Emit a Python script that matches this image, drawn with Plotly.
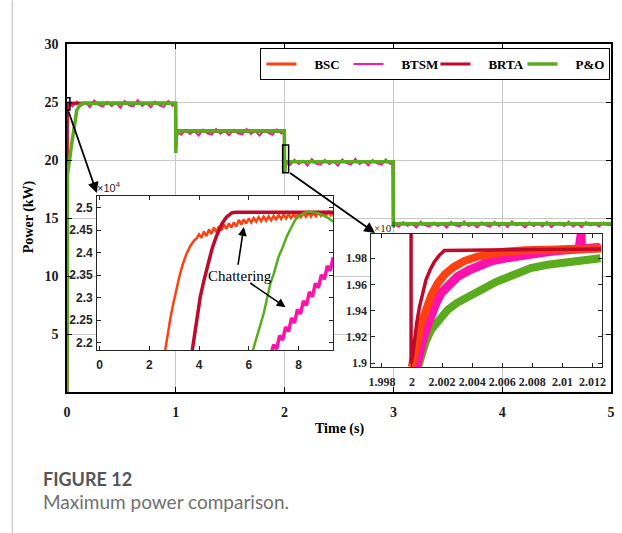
import plotly.graph_objects as go

# ---------------- colours ----------------
C_BSC = "#ff4010"
C_BTSM = "#ff12aa"
C_BRTA = "#c00a2c"
C_PO = "#5aab1e"

# ---------------- main plot data (time s, power kW) ----------------
bsc_t = [0.0, 0.003, 0.998, 1.0, 1.004, 1.02, 1.998, 2.0, 2.004, 2.02, 2.998, 3.0, 3.004, 3.02, 5.0]
bsc_p = [0.0, 24.9, 24.9, 21.2, 22.2, 22.5, 22.5, 19.0, 19.7, 19.87, 19.87, 14.25, 14.45, 14.5, 14.5]

brta_t = [0.0, 0.002, 0.998, 1.0, 1.003, 1.02, 1.998, 2.0, 2.003, 2.02, 2.998, 3.0, 3.003, 3.02, 5.0]
brta_p = [0.0, 24.9, 24.9, 21.4, 22.3, 22.5, 22.5, 19.0, 19.8, 19.87, 19.87, 14.3, 14.5, 14.5, 14.5]

po_t = [0.0, 0.004, 0.045, 0.09, 0.12, 0.15, 0.998, 1.0, 1.006, 1.03, 1.998, 2.0, 2.006, 2.03,
        2.998, 3.0, 3.006, 3.03, 5.0]
po_p = [0.0, 18.7, 21.5, 24.3, 24.75, 24.9, 24.9, 20.6, 22.1, 22.5, 22.5, 19.0, 19.6, 19.85,
        19.85, 14.2, 14.45, 14.5, 14.5]

btsm_t1 = [0.0, 0.002, 0.01, 0.05, 0.09, 0.13, 0.17, 0.21, 0.25, 0.29, 0.33, 0.37, 0.41, 0.45,
           0.49, 0.53, 0.57, 0.61, 0.65, 0.69, 0.73, 0.77, 0.81, 0.85, 0.89, 0.93, 0.97, 0.995]
btsm_p1 = [0.0, 24.9, 24.85, 24.62, 25.02, 24.68, 24.95, 24.55, 25.12, 24.75, 24.6, 25.0, 24.65, 24.92,
           24.52, 25.08, 24.72, 24.62, 25.15, 24.66, 24.9, 24.55, 25.02, 24.72, 24.58, 25.08, 24.66, 24.85]

btsm_t2 = [1.0, 1.01, 1.05, 1.09, 1.13, 1.17, 1.21, 1.25, 1.29, 1.33, 1.37, 1.41, 1.45, 1.49,
           1.53, 1.57, 1.61, 1.65, 1.69, 1.73, 1.77, 1.81, 1.85, 1.89, 1.93, 1.97, 1.995]
btsm_p2 = [21.0, 22.4, 22.18, 22.58, 22.25, 22.5, 22.12, 22.62, 22.3, 22.18, 22.66, 22.26, 22.5, 22.14,
           22.6, 22.3, 22.2, 22.66, 22.24, 22.5, 22.12, 22.56, 22.34, 22.18, 22.64, 22.28, 22.42]

btsm_t3 = [2.0, 2.01, 2.05, 2.09, 2.13, 2.17, 2.21, 2.25, 2.29, 2.33, 2.37, 2.41, 2.45, 2.49,
           2.53, 2.57, 2.61, 2.65, 2.69, 2.73, 2.77, 2.81, 2.85, 2.89, 2.93, 2.97, 2.995]
btsm_p3 = [19.0, 19.8, 19.58, 20.02, 19.66, 19.92, 19.52, 20.08, 19.7, 19.6, 20.0, 19.66, 19.88, 19.5,
           20.05, 19.74, 19.6, 20.1, 19.66, 19.9, 19.55, 20.0, 19.72, 19.6, 20.04, 19.66, 19.82]

btsm_t4 = [3.0, 3.01, 3.05, 3.09, 3.13, 3.17, 3.21, 3.25, 3.29, 3.33, 3.37, 3.41, 3.45, 3.49, 3.53,
           3.57, 3.61, 3.65, 3.69, 3.73, 3.77, 3.81, 3.85, 3.89, 3.93, 3.97, 4.01, 4.05, 4.09,
           4.13, 4.17, 4.21, 4.25, 4.29, 4.33, 4.37, 4.41, 4.45, 4.49, 4.53, 4.57, 4.61, 4.65,
           4.69, 4.73, 4.77, 4.81, 4.85, 4.89, 4.93, 4.97, 4.995, 5.0]
btsm_p4 = [14.2, 14.45, 14.24, 14.64, 14.32, 14.54, 14.18, 14.68, 14.38, 14.26, 14.6,
           14.3, 14.54, 14.18, 14.66, 14.36, 14.27, 14.7, 14.31, 14.5, 14.2,
           14.62, 14.36, 14.26, 14.66, 14.31, 14.54, 14.22, 14.7, 14.36, 14.5,
           14.19, 14.62, 14.31, 14.56, 14.27, 14.66, 14.22, 14.48, 14.6, 14.31,
           14.68, 14.27, 14.5, 14.21, 14.64, 14.36, 14.54, 14.27, 14.62, 14.4, 14.45, 14.42]

btsm_t = btsm_t1 + btsm_t2 + btsm_t3 + btsm_t4
btsm_p = btsm_p1 + btsm_p2 + btsm_p3 + btsm_p4

# ---------------- inset 1 data (start-up, power x1e4 W) ----------------
bsc1_x = [2.64, 2.75, 2.85, 2.95, 3.05, 3.2, 3.35, 3.5, 3.65, 3.8, 3.9,
          4.0, 4.1, 4.2, 4.3, 4.4, 4.5, 4.6, 4.7, 4.8, 4.9, 5.0, 5.1, 5.2, 5.3, 5.4, 5.5,
          5.6, 5.7, 5.8, 5.9, 6.0, 6.1, 6.2, 6.3, 6.4, 6.5, 6.6, 6.7, 6.8, 6.9, 7.0, 7.1,
          7.2, 7.3, 7.4, 7.5, 7.6, 7.7, 7.8, 7.9, 8.0, 8.1, 8.2, 8.3, 8.4, 8.5, 8.6, 8.7,
          8.8, 8.9, 9.0, 9.1, 9.2, 9.3, 9.4]
bsc1_y = [2.184, 2.225, 2.255, 2.283, 2.31, 2.345, 2.375, 2.398, 2.415, 2.427, 2.432,
          2.441, 2.433, 2.447, 2.437, 2.452, 2.442, 2.456, 2.446, 2.459, 2.45, 2.463, 2.453,
          2.465, 2.456, 2.467, 2.458, 2.473, 2.463, 2.474, 2.465, 2.476, 2.467, 2.477, 2.469,
          2.479, 2.47, 2.48, 2.471, 2.481, 2.472, 2.482, 2.474, 2.484, 2.475, 2.485, 2.476,
          2.486, 2.477, 2.486, 2.478, 2.487, 2.479, 2.488, 2.48, 2.489, 2.48, 2.489, 2.481,
          2.49, 2.482, 2.49, 2.482, 2.491, 2.483, 2.491]

brta1_x = [3.73, 3.8, 3.93, 4.05, 4.2, 4.35, 4.53, 4.7, 4.93, 5.1, 5.33, 5.5, 9.4]
brta1_y = [2.184, 2.21, 2.262, 2.302, 2.339, 2.375, 2.41, 2.437, 2.465, 2.479, 2.489, 2.49, 2.49]

btsm1_x = [6.92, 7.0, 7.12, 7.24, 7.36, 7.48, 7.6, 7.72, 7.84, 7.96, 8.08, 8.2, 8.32, 8.44,
           8.56, 8.68, 8.8, 8.92, 9.04, 9.16, 9.28, 9.4]
btsm1_y = [2.18, 2.196, 2.186, 2.216, 2.206, 2.235, 2.225, 2.255, 2.244, 2.274, 2.264, 2.293,
           2.283, 2.313, 2.302, 2.332, 2.322, 2.351, 2.341, 2.371, 2.36, 2.39]

po1_x = [6.17, 6.3, 6.45, 6.6, 6.75, 6.87, 7.0, 7.2, 7.35, 7.53, 7.7, 7.87, 8.05, 8.25, 8.4,
         8.6, 8.8, 9.0, 9.2, 9.4]
po1_y = [2.184, 2.208, 2.234, 2.265, 2.302, 2.332, 2.352, 2.391, 2.41, 2.436, 2.455, 2.473,
         2.482, 2.489, 2.491, 2.49, 2.488, 2.483, 2.477, 2.469]

# ---------------- inset 2 data (t = 2 s step, power x1e4 W) ----------------
brta2_x = [1.99994, 1.99994, 2.00005, 2.00017, 2.00032, 2.0005, 2.0007, 2.00093, 2.0012,
           2.00149, 2.0018, 2.00215, 2.0126]
brta2_y = [2.25, 1.9, 1.906, 1.918, 1.931, 1.943, 1.954, 1.9635, 1.971, 1.9774, 1.982, 1.986, 1.987]

bsc2_x = [1.99998, 2.0001, 2.00025, 2.00038, 2.0006, 2.00093, 2.0013, 2.00171, 2.0022, 2.00281,
          2.0035, 2.00436, 2.0052, 2.00613, 2.0075, 2.009, 2.0126]
bsc2_y = [1.897, 1.902, 1.91, 1.918, 1.93, 1.9406, 1.952, 1.961, 1.968, 1.9736, 1.978, 1.9813,
          1.9835, 1.985, 1.9862, 1.987, 1.9875]

btsm2_x = [2.0002, 2.00027, 2.0004, 2.00055, 2.00072, 2.001, 2.00127, 2.0016, 2.00193, 2.0025,
           2.00303, 2.0038, 2.00458, 2.0053, 2.00613, 2.007, 2.00789, 2.009, 2.0101, 2.0111,
           2.01125, 2.01125, 2.0113, 2.0125]
btsm2_y = [1.893, 1.8975, 1.905, 1.912, 1.9178, 1.928, 1.938, 1.946, 1.9534, 1.961, 1.966,
           1.971, 1.975, 1.978, 1.98, 1.982, 1.9838, 1.985, 1.9863, 1.987, 1.9985, 1.987,
           1.987, 1.9884]

po2_x = [2.0004, 2.0006, 2.0009, 2.00127, 2.0018, 2.00237, 2.003, 2.0037, 2.0044, 2.00502,
         2.0056, 2.00613, 2.007, 2.00789, 2.009, 2.0101, 2.0113, 2.01253]
po2_y = [1.897, 1.905, 1.916, 1.9254, 1.934, 1.9406, 1.946, 1.9508, 1.955, 1.9584, 1.962,
         1.9645, 1.969, 1.9725, 1.975, 1.977, 1.9785, 1.98]

# ---------------- axes settings ----------------
main_xticks = [0, 1, 2, 3, 4, 5]
main_yticks = [5, 10, 15, 20, 25, 30]
in1_xticks = [0, 2, 4, 6, 8]
in1_yticks = [2.2, 2.25, 2.3, 2.35, 2.4, 2.45, 2.5]
in1_ytext = ["2.2", "2.25", "2.3", "2.35", "2.4", "2.45", "2.5"]
in2_xticks = [1.998, 2.0, 2.002, 2.004, 2.006, 2.008, 2.010, 2.012]
in2_xtext = ["1.998", "2", "2.002", "2.004", "2.006", "2.008", "2.01", "2.012"]
in2_yticks = [1.9, 1.92, 1.94, 1.96, 1.98]
in2_ytext = ["1.9", "1.92", "1.94", "1.96", "1.98"]

IN1_X = [-0.1, 9.4]
IN1_Y = [2.184, 2.526]
IN2_X = [1.9973, 2.0126]
IN2_Y = [1.897, 1.9985]

SERIF = "Liberation Serif"
SANS = "Liberation Sans"

fig = go.Figure()

# main traces
fig.add_trace(go.Scatter(x=bsc_t, y=bsc_p, mode="lines", name="&nbsp;&nbsp;&nbsp;&nbsp;BSC",
                         line=dict(color=C_BSC, width=3)))
fig.add_trace(go.Scatter(x=btsm_t, y=btsm_p, mode="lines", name="&nbsp;&nbsp;&nbsp;&nbsp;BTSM",
                         line=dict(color=C_BTSM, width=2)))
fig.add_trace(go.Scatter(x=brta_t, y=brta_p, mode="lines", name="&nbsp;&nbsp;&nbsp;&nbsp;BRTA",
                         line=dict(color=C_BRTA, width=3)))
fig.add_trace(go.Scatter(x=po_t, y=po_p, mode="lines", name="&nbsp;&nbsp;&nbsp;&nbsp;P&amp;O",
                         line=dict(color=C_PO, width=3.5)))

# inset 1
fig.add_trace(go.Scatter(x=bsc1_x, y=bsc1_y, mode="lines", xaxis="x2", yaxis="y2", showlegend=False,
                         line=dict(color=C_BSC, width=2.5)))
fig.add_trace(go.Scatter(x=brta1_x, y=brta1_y, mode="lines", xaxis="x2", yaxis="y2", showlegend=False,
                         line=dict(color=C_BRTA, width=3.5)))
fig.add_trace(go.Scatter(x=btsm1_x, y=btsm1_y, mode="lines", xaxis="x2", yaxis="y2", showlegend=False,
                         line=dict(color=C_BTSM, width=3.5)))
fig.add_trace(go.Scatter(x=po1_x, y=po1_y, mode="lines", xaxis="x2", yaxis="y2", showlegend=False,
                         line=dict(color=C_PO, width=2.5)))

# inset 2
fig.add_trace(go.Scatter(x=po2_x, y=po2_y, mode="lines", xaxis="x3", yaxis="y3", showlegend=False,
                         line=dict(color=C_PO, width=8)))
fig.add_trace(go.Scatter(x=btsm2_x, y=btsm2_y, mode="lines", xaxis="x3", yaxis="y3", showlegend=False,
                         line=dict(color=C_BTSM, width=9)))
fig.add_trace(go.Scatter(x=bsc2_x, y=bsc2_y, mode="lines", xaxis="x3", yaxis="y3", showlegend=False,
                         line=dict(color=C_BSC, width=8)))
fig.add_trace(go.Scatter(x=brta2_x, y=brta2_y, mode="lines", xaxis="x3", yaxis="y3", showlegend=False,
                         line=dict(color=C_BRTA, width=3.5)))

main_tickfont = dict(family=SERIF, size=14, color="#1a1a1a", weight="bold")
ax_common = dict(showline=True, linecolor="black", linewidth=1.5, mirror="ticks", ticks="inside",
                 ticklen=5, tickcolor="black", showgrid=True, gridcolor="#c8c8c8", gridwidth=1,
                 zeroline=False, tickfont=main_tickfont)
in1_font = dict(family=SANS, size=12, color="#262626", weight="bold")
in2_font = dict(family=SERIF, size=12, color="#262626", weight="bold")
in_common = dict(showline=True, linecolor="#262626", linewidth=1, mirror="ticks", ticks="inside",
                 ticklen=4, tickcolor="#262626", showgrid=False, zeroline=False)

fig.update_layout(
    width=622, height=533, autosize=False,
    margin=dict(l=67, r=7, t=44, b=141),
    paper_bgcolor="white", plot_bgcolor="white",
    xaxis=dict(domain=[0, 1], range=[0, 5], tickvals=main_xticks, ticklabelstandoff=6, **ax_common),
    yaxis=dict(domain=[0, 1], range=[0, 30], tickvals=main_yticks, ticklabelstandoff=4, **ax_common),
    xaxis2=dict(domain=[0.0553, 0.4895], anchor="y2", range=IN1_X, tickvals=in1_xticks,
                tickfont=in1_font, ticklabelstandoff=4, **in_common),
    yaxis2=dict(domain=[0.1207, 0.5632], anchor="x2", range=IN1_Y, tickvals=in1_yticks,
                ticktext=in1_ytext, tickfont=in1_font, ticklabelstandoff=1, **in_common),
    xaxis3=dict(domain=[0.5595, 0.9826], anchor="y3", range=IN2_X, tickvals=in2_xticks,
                ticktext=in2_xtext, tickfont=in2_font, ticklabelstandoff=4, **in_common),
    yaxis3=dict(domain=[0.0718, 0.454], anchor="x3", range=IN2_Y, tickvals=in2_yticks,
                ticktext=in2_ytext, tickfont=in2_font, ticklabelstandoff=1, **in_common),
    showlegend=True,
    legend=dict(orientation="h", x=0.3556, y=0.9885, xanchor="left", yanchor="top",
                bgcolor="white", bordercolor="black", borderwidth=1,
                font=dict(family=SERIF, size=13, color="black", weight="bold"),
                entrywidth=42, entrywidthmode="pixels", tracegroupgap=0),
)

# inset backgrounds (cover main grid)
fig.add_shape(type="rect", xref="x2", yref="y2", x0=IN1_X[0], x1=IN1_X[1], y0=IN1_Y[0], y1=IN1_Y[1],
              fillcolor="white", line=dict(width=0), layer="below")
fig.add_shape(type="rect", xref="x3", yref="y3", x0=IN2_X[0], x1=IN2_X[1], y0=IN2_Y[0], y1=IN2_Y[1],
              fillcolor="white", line=dict(width=0), layer="below")

# zoom indicator boxes on main plot
fig.add_shape(type="rect", xref="x", yref="y", x0=-0.009, x1=0.027, y0=24.31, y1=25.37,
              line=dict(color="black", width=1.5), layer="above")
fig.add_shape(type="rect", xref="x", yref="y", x0=1.982, x1=2.037, y0=18.9, y1=21.29,
              line=dict(color="black", width=1.5), layer="above")

# page border line on the left
fig.add_shape(type="line", xref="paper", yref="paper", x0=-0.1005, x1=-0.1005, y0=-0.405, y1=1.126,
              line=dict(color="#cfcfcf", width=1.5))

ann = []
# arrows from zoom boxes to insets
ann.append(dict(xref="x", yref="y", axref="x", ayref="y", x=0.274, y=17.16, ax=0.009, ay=24.31,
                text="", showarrow=True, arrowhead=2, arrowsize=1.2, arrowwidth=1.8,
                arrowcolor="black", standoff=0, startstandoff=0))
ann.append(dict(xref="x", yref="y", axref="x", ayref="y", x=2.831, y=13.71, ax=2.037, ay=18.97,
                text="", showarrow=True, arrowhead=2, arrowsize=1.2, arrowwidth=1.8,
                arrowcolor="black", standoff=0, startstandoff=0))
# chattering label + arrows (inset 1)
ann.append(dict(xref="x2", yref="y2", x=5.64, y=2.348, text="Chattering", showarrow=False,
                font=dict(family=SERIF, size=15, color="black")))
ann.append(dict(xref="x2", yref="y2", axref="x2", ayref="y2", x=5.8, y=2.457, ax=5.56, ay=2.37,
                text="", showarrow=True, arrowhead=2, arrowsize=1.1, arrowwidth=1.6,
                arrowcolor="black", standoff=0, startstandoff=0))
ann.append(dict(xref="x2", yref="y2", axref="x2", ayref="y2", x=7.48, y=2.279, ax=6.0, ay=2.335,
                text="", showarrow=True, arrowhead=2, arrowsize=1.1, arrowwidth=1.6,
                arrowcolor="black", standoff=0, startstandoff=0))
# exponent labels
ann.append(dict(xref="x2 domain", yref="y2 domain", x=0, y=1, xanchor="left", yanchor="bottom",
                text="×10<sup>4</sup>", showarrow=False, xshift=-2,
                font=dict(family=SANS, size=11, color="#262626")))
ann.append(dict(xref="x3 domain", yref="y3 domain", x=0, y=1, xanchor="left", yanchor="bottom",
                text="×10<sup>4</sup>", showarrow=False, xshift=1, yshift=-2,
                font=dict(family=SERIF, size=11, color="#262626")))
# axis titles
ann.append(dict(xref="paper", yref="paper", x=0.5, y=-0.1063, xanchor="center", yanchor="middle",
                text="Time (s)", showarrow=False,
                font=dict(family=SERIF, size=14, color="black", weight="bold")))
ann.append(dict(xref="paper", yref="paper", x=-0.0694, y=0.503, xanchor="center", yanchor="middle",
                text="Power (kW)", textangle=-90, showarrow=False,
                font=dict(family=SERIF, size=14, color="black", weight="bold")))
# caption
ann.append(dict(xref="paper", yref="paper", x=-0.0475, y=-0.25, xanchor="left", yanchor="middle",
                text="FIGURE 12", showarrow=False,
                font=dict(family="Lato", size=18, color="#555555", weight="bold")))
ann.append(dict(xref="paper", yref="paper", x=-0.0475, y=-0.316, xanchor="left", yanchor="middle",
                text="Maximum power comparison.", showarrow=False,
                font=dict(family="Lato", size=19, color="#707070")))
fig.update_layout(annotations=ann)

fig.write_html("out.html")
